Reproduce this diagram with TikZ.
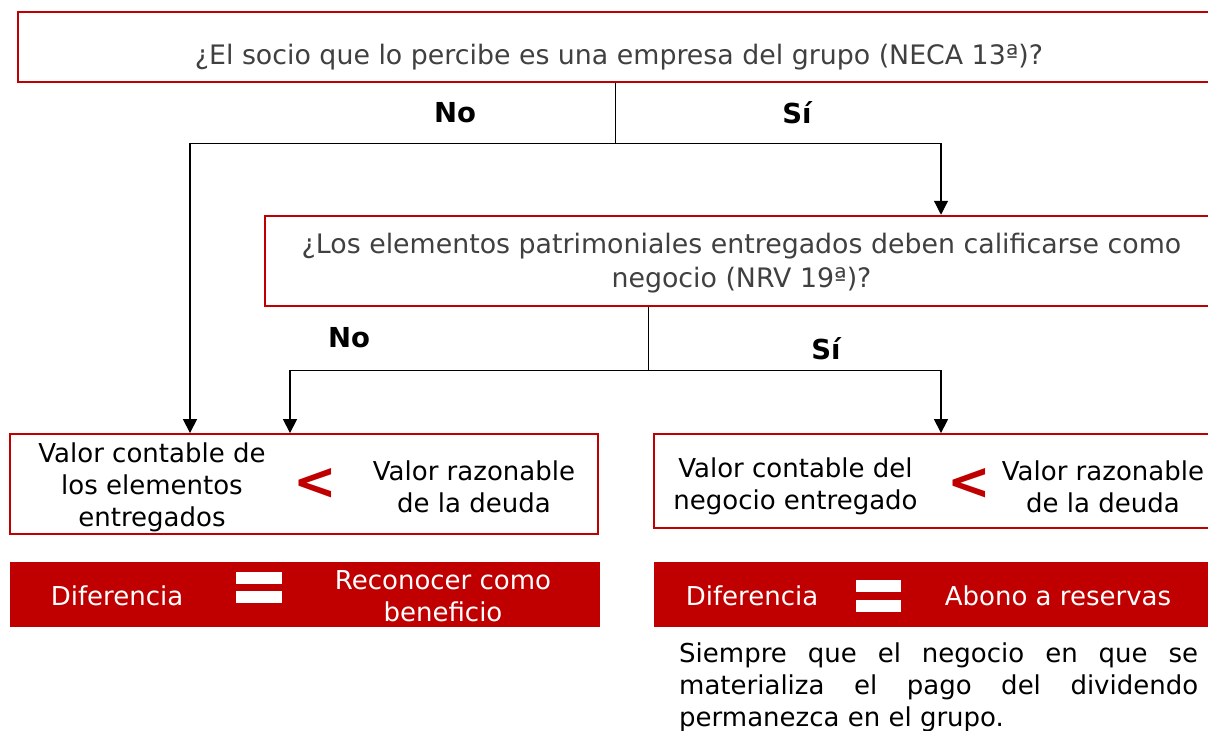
\documentclass[tikz,border=0pt]{standalone}
\usepackage{fontspec}
\setmainfont{DejaVu Sans}
\usetikzlibrary{arrows.meta}
\definecolor{dred}{HTML}{C00000}
\definecolor{tgray}{HTML}{404040}
\begin{document}
\begin{tikzpicture}[x=1pt,y=-1pt,
  box/.style={draw=dred, line width=2.5pt, inner sep=0pt, rectangle},
  thinbox/.style={draw=dred, line width=1.8pt, inner sep=0pt, rectangle},
  bar/.style={fill=dred, draw=none, inner sep=0pt, rectangle},
  txt/.style={font=\fontsize{26}{32}\selectfont, align=center, inner sep=0pt},
  qtxt/.style={font=\fontsize{26.8}{34}\selectfont, align=center, inner sep=0pt, text=tgray},
  wtxt/.style={txt, text=white},
  lab/.style={font=\fontsize{27.5}{30}\selectfont\bfseries, inner sep=0pt},
  lt/.style={font=\fontsize{52}{52}\selectfont\bfseries, text=dred, inner sep=0pt},
  ln/.style={line width=1pt},
  arr/.style={-{Triangle[width=14pt,length=14pt]}, line width=1.2pt}]
\useasboundingbox (0,0) rectangle (1208,731);
\clip (0,0) rectangle (1208,731);

% boxes
\node[box, minimum width=1202pt, minimum height=70pt] (box1) at (619,47) {};
\node[box, minimum width=955pt, minimum height=90pt] (box2) at (742.5,261) {};
\node[thinbox, minimum width=588pt, minimum height=100pt] (box3) at (304,484) {};
\node[thinbox, minimum width=566pt, minimum height=94pt] (box4) at (937,481) {};
\node[bar, minimum width=590pt, minimum height=65pt] (bar1) at (305,594.5) {};
\node[bar, minimum width=566pt, minimum height=65pt] (bar2) at (937,594.5) {};

% texts
\node[qtxt] (q1) at (619,57) {¿El socio que lo percibe es una empresa del grupo (NECA 13ª)?};
\node[qtxt] (q2) at (741.5,263) {¿Los elementos patrimoniales entregados deben calificarse como\\negocio (NRV 19ª)?};

\node[txt] (a1) at (152,487) {Valor contable de\\los elementos\\entregados};
\node[lt] (lt1) at (315,484) {<};
\node[txt] (a2) at (474,487) {Valor razonable\\de la deuda};

\node[txt] (b1) at (795.5,486.5) {Valor contable del\\negocio entregado};
\node[lt] (lt2) at (969,484) {<};
\node[txt] (b2) at (1103,486.5) {Valor razonable\\de la deuda};

\node[wtxt] (c1) at (117,596) {Diferencia};
\node[wtxt] (c2) at (443,596) {Reconocer como\\beneficio};
\fill[white] (236,572) rectangle (282,584);
\fill[white] (236,591) rectangle (282,603);

\node[wtxt] (d1) at (752,596) {Diferencia};
\node[wtxt] (d2) at (1058,596) {Abono a reservas};
\fill[white] (856,580) rectangle (901,592);
\fill[white] (856,600) rectangle (901,612);

\node[font=\fontsize{26}{32}\selectfont, align=left, inner sep=0pt, anchor=north west] (note) at (679,643)
  {\makebox[519pt][s]{Siempre que el negocio en que se}\\
   \makebox[519pt][s]{materializa el pago del dividendo}\\
   permanezca en el grupo.};

% labels
\node[lab] (no1) at (455,113) {No};
\node[lab] (si1) at (797,113) {Sí};
\node[lab] (no2) at (349,338) {No};
\node[lab] (si2) at (826,349) {Sí};

% connectors
\coordinate (j1) at (615,143);
\coordinate (jL) at (190,143);
\coordinate (jR) at (941,143);
\coordinate (j2) at (648,370);
\coordinate (kL) at (290,370);
\coordinate (kR) at (941,370);

\draw[ln] (box1.south -| j1) -- (j1);
\draw[ln] (jL) -- (jR);
\draw[arr] (jL) -- (jL |- box3.north);
\draw[arr] (jR) -- (jR |- box2.north);

\draw[ln] (box2.south -| j2) -- (j2);
\draw[ln] (kL) -- (kR);
\draw[arr] (kL) -- (kL |- box3.north);
\draw[arr] (kR) -- (kR |- box4.north);
\end{tikzpicture}
\end{document}
